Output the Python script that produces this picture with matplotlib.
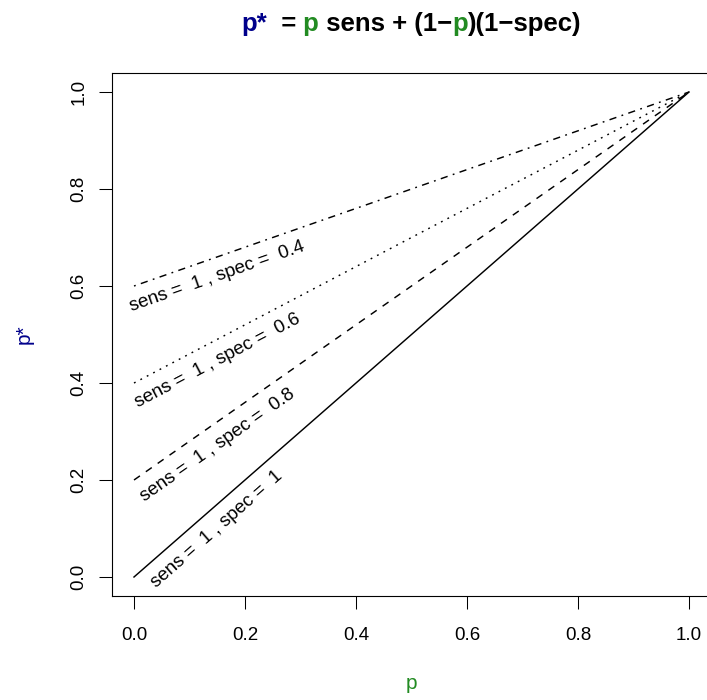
import numpy as np
import matplotlib
matplotlib.use("Agg")
import matplotlib.pyplot as plt
from matplotlib.offsetbox import TextArea, HPacker, AnchoredOffsetbox

plt.rcParams['font.family'] = ['Liberation Sans', 'DejaVu Sans']
plt.rcParams['lines.scale_dashes'] = False

# ---- data ----
p_vals = [0.0, 1.0]
sens_vals = [1, 1, 1, 1]
spec_vals = [1, 0.8, 0.6, 0.4]
label_x = 0.15
xticks = [0.0, 0.2, 0.4, 0.6, 0.8, 1.0]
yticks = [0.0, 0.2, 0.4, 0.6, 0.8, 1.0]

# ---- style ----
W, H = 707, 700
DARKBLUE = '#00008B'
GREEN = '#228B22'
u = 1.3
styles = ['-', (0, (4*u, 4*u)), (0, (1*u, 3*u)), (0, (1*u, 3*u, 4*u, 3*u))]
FS = 13.5
LFS = 15

fig = plt.figure(figsize=(W/100, H/100), dpi=100)
ax = fig.add_axes([111.8/W, 103.6/H, 599.4/W, 523.8/H])
ax.set_xlim(-0.04, 1.04)
ax.set_ylim(-0.04, 1.04)

p = np.array(p_vals)
for sens, spec, ls in zip(sens_vals, spec_vals, styles):
    pstar = p*sens + (1-p)*(1-spec)
    ax.plot(p, pstar, color='black', lw=1.05, linestyle=ls)

fig.canvas.draw()
for sens, spec in zip(sens_vals, spec_vals):
    slope = sens - (1-spec)
    ang = ax.transData.transform_angles(np.array([np.degrees(np.arctan(slope))]),
                                        np.array([[0.5, 0.5]]))[0]
    y0 = label_x*sens + (1-label_x)*(1-spec)
    px0 = ax.transData.transform((label_x, y0))
    dy_px = 19.0 / np.cos(np.radians(ang))
    lx, ly = ax.transData.inverted().transform((px0[0], px0[1] - dy_px))
    lab = "sens =  " + f"{sens:g}" + " , spec =  " + f"{spec:g}"
    ax.text(label_x, ly, lab, rotation=ang, rotation_mode='anchor',
            ha='center', va='center', fontsize=FS)

ax.set_xticks(xticks)
ax.set_yticks(yticks)
ax.set_xticklabels([f"{v:.1f}" for v in xticks])
ax.set_yticklabels([f"{v:.1f}" for v in yticks], rotation=90, va='center')
ax.tick_params(axis='both', direction='out', length=9.2, width=0.75, labelsize=FS, color='black')
ax.tick_params(axis='x', pad=12.5)
ax.tick_params(axis='y', pad=8.5)
for s in ax.spines.values():
    s.set_linewidth(0.8)
    s.set_color('black')

# axis labels
fig.text(411/W, 1-689/H, 'p', color=GREEN, fontsize=LFS, ha='center', va='baseline')
fig.text(24/W, 1-334/H, 'p*', color=DARKBLUE, fontsize=LFS,
         rotation=90, ha='center', va='center')

# title
TFS = 18.5
tp = dict(fontsize=TFS, fontweight='bold')
pieces = [
    TextArea('p*', textprops=dict(color=DARKBLUE, **tp)),
    TextArea('  =', textprops=dict(color='black', **tp)),
    TextArea(' p', textprops=dict(color=GREEN, **tp)),
    TextArea(' sens + (1\u2212', textprops=dict(color='black', **tp)),
    TextArea('p', textprops=dict(color=GREEN, **tp)),
    TextArea(')(1\u2212spec)', textprops=dict(color='black', **tp)),
]
box = HPacker(children=pieces, align='baseline', pad=0, sep=0)
anch = AnchoredOffsetbox(loc='center', child=box, pad=0, borderpad=0, frameon=False,
                         bbox_to_anchor=(411/W, 1-24/H), bbox_transform=fig.transFigure)
fig.add_artist(anch)

fig.savefig('out.png', dpi=100)
